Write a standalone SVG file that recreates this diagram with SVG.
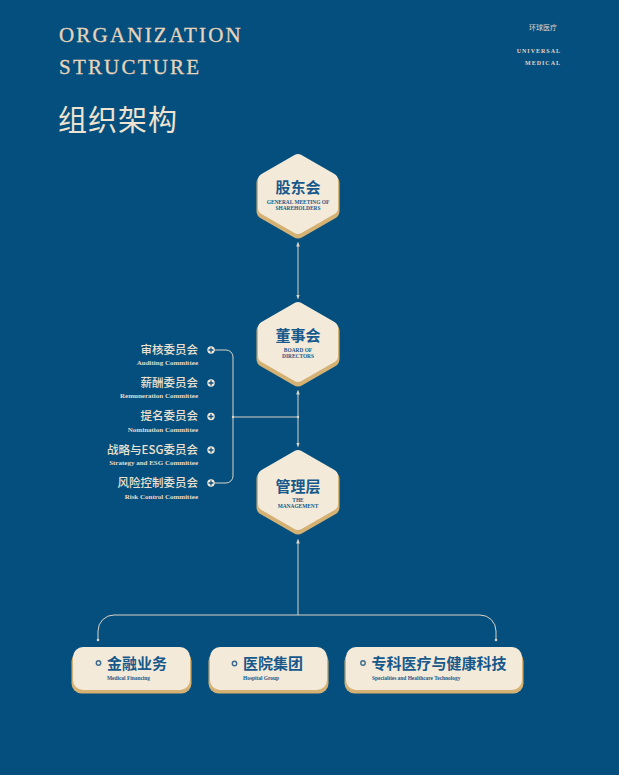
<svg xmlns="http://www.w3.org/2000/svg" width="619" height="775" viewBox="0 0 619 775">
<style>
.bg{fill:#044f7d}
.title{font-family:"Liberation Serif",serif;font-size:21px;fill:#e8d4ba;letter-spacing:2.2px;stroke:#e8d4ba;stroke-width:0.3}
.cntitle{font-family:"Noto Sans CJK SC",sans-serif;font-size:29px;fill:#eee2d0;letter-spacing:1px}
.brand{font-family:"Noto Sans CJK SC",sans-serif;font-size:7px;fill:#e0d5c8}
.brandEn{font-family:"Liberation Serif",serif;font-size:6px;font-weight:700;fill:#e0d5c8;letter-spacing:1px}
.hexC{fill:#f3eada;stroke:#f3eada;stroke-width:14;stroke-linejoin:round}
.hexG{fill:#d5b274;stroke:#d5b274;stroke-width:17;stroke-linejoin:round}
.hexT{font-family:"Noto Sans CJK SC",sans-serif;font-size:15px;font-weight:700;fill:#17598b;text-anchor:middle}
.hexE{font-family:"Liberation Serif",serif;font-size:5.4px;font-weight:700;fill:#17598b;text-anchor:middle}
.cm{font-family:"Noto Sans CJK SC",sans-serif;font-size:11.5px;fill:#ece1d0;text-anchor:end;font-weight:500}
.cmE{font-family:"Liberation Serif",serif;font-size:7px;font-weight:700;fill:#e6dbcb;text-anchor:end}
.plusC{fill:#f3eada}
.plusL{stroke:#0f4f7e;stroke-width:1.3}
.ln{fill:none;stroke:#dcd4c8;stroke-width:1}
.boxC{fill:#f3eada}
.boxG{fill:#d5b274}
.boxT{font-family:"Noto Sans CJK SC",sans-serif;font-size:15px;font-weight:700;fill:#17598b}
.boxE{font-family:"Liberation Serif",serif;font-size:5.4px;font-weight:700;fill:#17598b}
.bul{fill:#f3eada;stroke:#3d6a8e;stroke-width:1.4}
.dot{fill:#dcd4c8}
</style>
<defs>
<marker id="arr" viewBox="0 0 6 6" refX="3" refY="3" markerWidth="5" markerHeight="5" orient="auto-start-reverse">
<path d="M0,0.8 L6,3 L0,5.2 Z" fill="#dcd4c8"/>
</marker>
<polygon id="hexShape" points="0,-33 33,-14 33,14 0,33 -33,14 -33,-14"/>
</defs>
<rect class="bg" x="0" y="0" width="619" height="775"/>

<g id="header">
<text class="title" x="59" y="42">ORGANIZATION</text>
<text class="title" x="59" y="74">STRUCTURE</text>
<text class="cntitle" x="58" y="131">组织架构</text>
<text class="brand" x="557" y="30" text-anchor="end">环球医疗</text>
<text class="brandEn" x="561" y="53" text-anchor="end">UNIVERSAL</text>
<text class="brandEn" x="561" y="65" text-anchor="end">MEDICAL</text>
</g>

<g id="connectors">
<line class="ln" x1="298" y1="244" x2="298" y2="297" marker-start="url(#arr)" marker-end="url(#arr)"/>
<line class="ln" x1="298" y1="392" x2="298" y2="445" marker-start="url(#arr)" marker-end="url(#arr)"/>
<line class="ln" x1="233" y1="417" x2="298" y2="417"/>
<circle class="dot" cx="233" cy="417" r="1.2"/>
<circle class="dot" cx="298" cy="417" r="1.2"/>
<path class="ln" d="M214,350 H226 A7,7 0 0 1 233,357 V476 A7,7 0 0 1 226,483 H214"/>
<path class="ln" d="M298,541 V615" marker-start="url(#arr)"/>
<path class="ln" d="M298,615 H114 A16,16 0 0 0 98,631 V640"/>
<path class="ln" d="M298,615 H480 A16,16 0 0 1 496,631 V640"/>
<circle class="dot" cx="98" cy="640" r="1.3"/>
<circle class="dot" cx="496" cy="640" r="1.3"/>
</g>

<g id="node-shareholders">
<use href="#hexShape" class="hexG" transform="translate(298,197)"/>
<use href="#hexShape" class="hexC" transform="translate(298,194)"/>
<text class="hexT" x="298" y="193">股东会</text>
<text class="hexE" x="298" y="203.7">GENERAL MEETING OF</text>
<text class="hexE" x="298" y="209.9">SHAREHOLDERS</text>
</g>

<g id="node-board">
<use href="#hexShape" class="hexG" transform="translate(298,345)"/>
<use href="#hexShape" class="hexC" transform="translate(298,342)"/>
<text class="hexT" x="298" y="341">董事会</text>
<text class="hexE" x="298" y="351.7">BOARD OF</text>
<text class="hexE" x="298" y="357.9">DIRECTORS</text>
</g>

<g id="node-management">
<use href="#hexShape" class="hexG" transform="translate(298,493)"/>
<use href="#hexShape" class="hexC" transform="translate(298,490)"/>
<text class="hexT" x="298" y="492">管理层</text>
<text class="hexE" x="298" y="501.7">THE</text>
<text class="hexE" x="298" y="507.9">MANAGEMENT</text>
</g>

<g id="node-auditing">
<text class="cm" x="198" y="354">审核委员会</text>
<text class="cmE" x="198" y="365">Auditing Committee</text>
<circle class="plusC" cx="211" cy="350" r="3.7"/>
<path class="plusL" d="M208.6,350 H213.4 M211,347.6 V352.4"/>
</g>
<g id="node-remuneration">
<text class="cm" x="198" y="387">薪酬委员会</text>
<text class="cmE" x="198" y="398">Remuneration Committee</text>
<circle class="plusC" cx="211" cy="383" r="3.7"/>
<path class="plusL" d="M208.6,383 H213.4 M211,380.6 V385.4"/>
</g>
<g id="node-nomination">
<text class="cm" x="198" y="420">提名委员会</text>
<text class="cmE" x="198" y="431.5">Nomination Committee</text>
<circle class="plusC" cx="211" cy="416.5" r="3.7"/>
<path class="plusL" d="M208.6,416.5 H213.4 M211,414.1 V418.9"/>
</g>
<g id="node-strategy">
<text class="cm" x="198" y="454">战略与ESG委员会</text>
<text class="cmE" x="198" y="465">Strategy and ESG Committee</text>
<circle class="plusC" cx="211" cy="450" r="3.7"/>
<path class="plusL" d="M208.6,450 H213.4 M211,447.6 V452.4"/>
</g>
<g id="node-risk">
<text class="cm" x="198" y="487">风险控制委员会</text>
<text class="cmE" x="198" y="498.5">Risk Control Committee</text>
<circle class="plusC" cx="211" cy="483" r="3.7"/>
<path class="plusL" d="M208.6,483 H213.4 M211,480.6 V485.4"/>
</g>

<g id="node-financing">
<rect class="boxG" x="71.5" y="651" width="120" height="42.5" rx="10"/>
<rect class="boxC" x="73" y="647" width="117" height="43" rx="10"/>
<circle class="bul" cx="98.5" cy="663" r="2.2"/>
<text class="boxT" x="107" y="668.5">金融业务</text>
<text class="boxE" x="107" y="680">Medical Financing</text>
</g>

<g id="node-hospital">
<rect class="boxG" x="208.5" y="651" width="120" height="42.5" rx="10"/>
<rect class="boxC" x="210" y="647" width="117" height="43" rx="10"/>
<circle class="bul" cx="234.5" cy="663.5" r="2.2"/>
<text class="boxT" x="243" y="669">医院集团</text>
<text class="boxE" x="243" y="680">Hospital Group</text>
</g>

<g id="node-specialties">
<rect class="boxG" x="344.5" y="651" width="179" height="42.5" rx="10"/>
<rect class="boxC" x="346" y="647" width="176" height="43" rx="10"/>
<circle class="bul" cx="363" cy="663" r="2.2"/>
<text class="boxT" x="371.5" y="668.5">专科医疗与健康科技</text>
<text class="boxE" x="372" y="680">Specialties and Healthcare Technology</text>
</g>
</svg>
